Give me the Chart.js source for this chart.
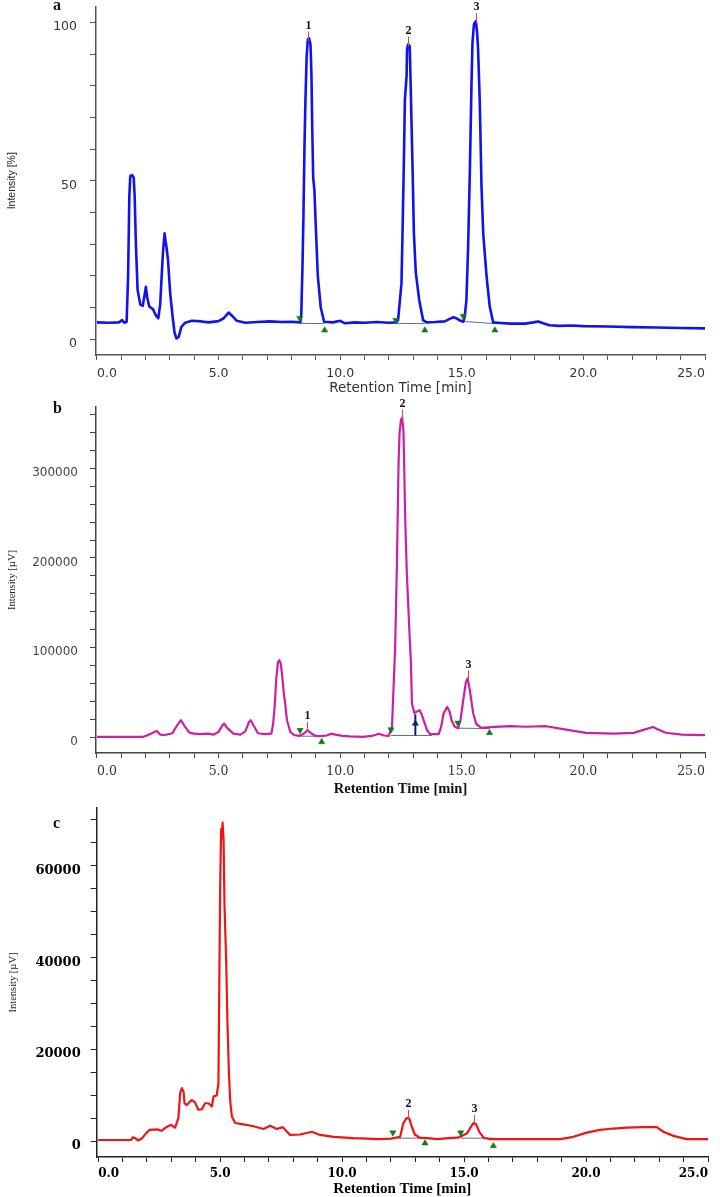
<!DOCTYPE html>
<html>
<head>
<meta charset="utf-8">
<script src="https://cdn.jsdelivr.net/npm/chart.js@4.4.0/dist/chart.umd.min.js"></script>
<style>
  html, body { margin: 0; padding: 0; background: #fff; }
  #wrap { position: relative; width: 720px; height: 1197px; overflow: hidden; }
  .pane { position: absolute; left: 0; width: 720px; }
  .pane canvas { display: block; }
  .tag { position: absolute; left: 53px; font: bold 16px "Liberation Serif", serif; line-height: 16px; color: #111; }
</style>
</head>
<body>
<div id="wrap">
  <div class="pane" style="top:0;height:400px"><canvas id="chart-a" width="720" height="400"></canvas></div>
  <div class="pane" style="top:396px;height:404px"><canvas id="chart-b" width="720" height="404"></canvas></div>
  <div class="pane" style="top:797px;height:400px"><canvas id="chart-c" width="720" height="400"></canvas></div>
  <div class="tag" style="top:-3px">a</div>
  <div class="tag" style="top:400px">b</div>
  <div class="tag" style="top:815px">c</div>
</div>
<script>
// ─────────────────────────────────────────────────────────────
// Cromatogramas a / b / c
// ─────────────────────────────────────────────────────────────

// eixo x comum (min)
const xTicks = [0, 1, 2, 3, 4, 5, 6, 7, 8, 9, 10, 11, 12, 13, 14, 15, 16, 17, 18, 19, 20, 21, 22, 23, 24, 25];
const xLabeled = [0, 5, 10, 15, 20, 25];

// ── a : intensidade [%] ──
const aTime = [0.00, 0.50, 0.90, 1.03, 1.12, 1.22, 1.28, 1.33, 1.37, 1.45, 1.51, 1.55, 1.60, 1.67, 1.78, 1.88,
  1.96, 2.01, 2.07, 2.15, 2.30, 2.42, 2.52, 2.60, 2.66, 2.71, 2.78, 2.82, 2.86, 2.92, 3.01, 3.11, 3.19, 3.27,
  3.36, 3.47, 3.63, 3.90, 4.30, 4.59, 5.00, 5.21, 5.41, 5.55, 5.75, 6.10, 6.60, 7.10, 7.60, 8.00, 8.36, 8.40,
  8.45, 8.49, 8.53, 8.57, 8.62, 8.67, 8.72, 8.78, 8.82, 8.85, 8.89, 8.94, 9.00, 9.08, 9.20, 9.34, 9.70, 10.0,
  10.2, 10.6, 11.0, 11.5, 12.0, 12.30, 12.38, 12.52, 12.56, 12.62, 12.66, 12.73, 12.75, 12.79, 12.86, 12.89,
  12.93, 12.98, 13.03, 13.11, 13.25, 13.41, 13.55, 13.90, 14.30, 14.50, 14.65, 14.80, 14.95, 15.06, 15.12,
  15.19, 15.26, 15.33, 15.40, 15.44, 15.50, 15.58, 15.63, 15.67, 15.74, 15.81, 15.88, 16.02, 16.15, 16.29,
  16.60, 17.00, 17.60, 17.95, 18.14, 18.35, 18.60, 19.00, 19.50, 20.00, 21.00, 22.00, 23.00, 24.00, 25.00];
const aInt = [5.3, 5.2, 5.3, 6.0, 5.2, 5.5, 20, 45, 51.5, 51.8, 51, 45, 30, 15.5, 11.0, 10.5,
  14, 16.5, 13, 10.3, 9.5, 7.5, 6.6, 11, 20, 27, 33.4, 31, 29, 25, 14.5, 7.1, 2.0, 0.2,
  0.7, 3.9, 5.2, 5.8, 5.6, 5.3, 5.7, 6.6, 8.4, 7.4, 5.8, 5.2, 5.4, 5.6, 5.4, 5.5, 5.3, 8,
  23, 39, 60, 75, 89, 94.6, 95, 93, 83, 67, 51, 47, 35, 20, 10, 5.5, 5.3, 5.8,
  5.0, 5.3, 5.2, 5.4, 5.2, 5.3, 6, 17.6, 32.4, 56.6, 75.6, 83, 91.5, 93, 92.5, 83,
  69.3, 52.5, 33.5, 20.9, 12.3, 6, 5.3, 5.4, 5.6, 6.4, 6.9, 6.5, 5.8, 5.5, 7,
  12.3, 29.2, 52.5, 81, 93.7, 99.4, 100.4, 96.8, 91.5, 74.7, 48.2, 33.5, 19.7, 10.2, 5.3,
  5.1, 4.9, 4.9, 5.3, 5.6, 5.0, 4.4, 4.2, 4.3, 4.1, 4.0, 3.8, 3.7, 3.5, 3.4];
const aStartT = [8.34, 12.29, 15.06];
const aStartV = [6.6, 6.0, 7.3];
const aEndT = [9.36, 13.48, 16.36];
const aEndV = [2.8, 2.8, 2.8];
const aBaseT = [8.34, 9.36, null, 12.29, 13.48, null, 15.06, 16.36];
const aBaseV = [5.0, 4.9, null, 5.0, 4.9, null, 5.6, 4.9];
const aPeakT = [8.69, 12.79, 15.58];
const aPeakV = [94.6, 93, 100.4];
const aPeakLabels = ['1', '2', '3'];
const aYTicks = [0, 10, 20, 30, 40, 50, 60, 70, 80, 90, 100];
const aYLabeled = [0, 50, 100];

// ── b : intensidade [µV] ──
const bTime = [0.00, 1.00, 1.90, 2.05, 2.30, 2.45, 2.60, 2.80, 3.10, 3.30, 3.45, 3.60, 3.81, 4.00, 4.22, 4.55,
  4.80, 5.00, 5.15, 5.23, 5.35, 5.61, 5.90, 6.10, 6.25, 6.32, 6.45, 6.62, 6.90, 7.17, 7.24, 7.30, 7.37, 7.44,
  7.50, 7.56, 7.62, 7.68, 7.74, 7.81, 7.95, 8.10, 8.30, 8.50, 8.65, 8.80, 9.00, 9.20, 9.45, 9.62, 9.80, 10.10,
  10.40, 10.93, 11.30, 11.59, 11.80, 12.00, 12.13, 12.26, 12.33, 12.40, 12.44, 12.50, 12.55, 12.60, 12.63,
  12.67, 12.74, 12.85, 12.91, 12.95, 13.05, 13.15, 13.26, 13.35, 13.43, 13.57, 13.70, 14.05, 14.15, 14.25,
  14.40, 14.50, 14.58, 14.70, 14.85, 14.95, 15.06, 15.17, 15.24, 15.33, 15.47, 15.60, 15.81, 16.34, 17.00,
  17.60, 18.47, 19.29, 20.10, 21.25, 22.07, 22.50, 22.86, 23.10, 23.38, 24.04, 25.00];
const bInt = [1000, 1000, 1000, 2500, 5500, 7600, 3500, 3000, 5000, 14000, 19500, 13000, 5400, 4500, 4000, 4500,
  3500, 6500, 13500, 15800, 11000, 4500, 3500, 7000, 17500, 19500, 13000, 5000, 4000, 4500, 15000, 32000, 65000, 84000,
  86400, 82000, 68000, 50000, 38000, 19500, 6500, 3000, 2000, 4500, 8400, 5000, 2000, 1800, 2500, 4500, 3500, 2000,
  1500, 1000, 2000, 4500, 2500, 2000, 12000, 101000, 190000, 305000, 339000, 354000, 356000, 342000, 305000,
  246000, 183000, 116000, 82700, 38100, 27500, 29000, 30600, 26000, 19500, 8400, 3900, 3900, 12000, 27000,
  34300, 29000, 19500, 12500, 10500, 20000, 41800, 62200, 66000, 53000, 27000, 15000, 11000, 12000, 12800,
  12200, 12800, 9100, 5400, 4500, 5400, 9000, 12000, 9000, 5500, 3500, 2800];
const bStartT = [8.35, 12.09, 14.84];
const bStartV = [8400, 9100, 16500];
const bEndT = [9.24, 16.14];
const bEndV = [-4700, 5400];
const bSplitT = [13.09];
const bSplitV = [15800];
const bDropT = [13.09, 13.09];
const bDropV = [2500, 26000];
const bBaseT = [8.35, 9.24, null, 12.09, 13.77, null, 14.84, 16.14];
const bBaseV = [1700, 1700, null, 2500, 2500, null, 10600, 10200];
const bPeakT = [8.65, 12.55, 15.24];
const bPeakV = [8400, 356000, 66000];
const bPeakLabels = ['1', '2', '3'];
const bYTicks = [0, 20000, 40000, 60000, 80000, 100000, 120000, 140000, 160000, 180000, 200000, 220000,
  240000, 260000, 280000, 300000, 320000, 340000, 360000];
const bYLabeled = [0, 100000, 200000, 300000];

// ── c : intensidade [µV] ──
const cTime = [0.00, 1.35, 1.42, 1.55, 1.63, 1.80, 1.97, 2.10, 2.44, 2.60, 2.79, 2.99, 3.15, 3.22, 3.29, 3.36,
  3.43, 3.50, 3.54, 3.63, 3.75, 3.84, 3.97, 4.11, 4.25, 4.38, 4.52, 4.66, 4.73, 4.86, 4.93, 4.97, 5.00, 5.04,
  5.07, 5.10, 5.14, 5.18, 5.25, 5.30, 5.36, 5.41, 5.48, 5.62, 5.96, 6.37, 6.78, 7.05, 7.32, 7.57, 7.87, 8.28,
  8.76, 9.10, 9.65, 10.46, 11.00, 11.50, 12.00, 12.38, 12.51, 12.65, 12.75, 12.85, 12.98, 13.18, 13.50, 13.92,
  14.34, 14.75, 15.11, 15.25, 15.38, 15.49, 15.63, 15.80, 16.07, 17.00, 18.00, 18.93, 19.48, 20.03, 20.57,
  21.12, 21.67, 22.35, 22.90, 23.17, 23.58, 24.13, 25.00];
const cInt = [300, 300, 900, 600, 200, 700, 1800, 2500, 2600, 2300, 3100, 3600, 3000, 4000, 5100, 10500,
  11600, 10800, 8300, 7900, 8600, 9000, 8500, 6900, 7000, 8300, 8300, 7600, 9800, 10000, 12700, 36700, 54900, 68000,
  66000, 69400, 65800, 51200, 38900, 25800, 14900, 9000, 5400, 4000, 3700, 3300, 2700, 3400, 2700, 3100, 1400, 1500,
  2100, 1400, 1000, 700, 600, 500, 600, 1000, 4000, 5100, 5000, 3300, 1500, 800, 700, 500,
  700, 800, 1700, 2900, 4000, 3800, 2000, 800, 500, 500, 500, 500, 1000, 1900, 2500,
  2800, 3000, 3100, 3100, 2100, 1200, 500, 500];
const cStartT = [12.08, 14.86];
const cStartV = [1900, 1900];
const cEndT = [13.40, 16.20];
const cEndV = [-400, -1000];
const cBaseT = [12.08, 13.40, null, 14.86, 16.20];
const cBaseV = [700, 700, null, 700, 700];
const cPeakT = [12.70, 15.40];
const cPeakV = [5100, 4000];
const cPeakLabels = ['2', '3'];
const cYTicks = [0, 5000, 10000, 15000, 20000, 25000, 30000, 35000, 40000, 45000, 50000, 55000, 60000,
  65000, 70000];
const cYLabeled = [0, 20000, 40000, 60000];

const GREEN = '#0c7c12';
const NAVY = '#10206a';
const BASE_LINE = '#4a74a0';

function pts(ts, vs) { return ts.map((t, i) => ({ x: t, y: vs[i] })); }

// número do pico + risquinho vermelho no ápice
const peakMarks = {
  id: 'peakMarks',
  afterDatasetsDraw(chart, args, opts) {
    const { ctx, scales: { x, y } } = chart;
    ctx.save();
    ctx.font = 'bold 12px "Liberation Serif", serif';
    ctx.textAlign = 'center';
    ctx.textBaseline = 'middle';
    opts.times.forEach((t, i) => {
      const px = Math.round(x.getPixelForValue(t)) + 0.5;
      const py = y.getPixelForValue(opts.values[i]);
      ctx.strokeStyle = '#e0404a';
      ctx.lineWidth = 1;
      ctx.beginPath();
      ctx.moveTo(px, py + 2);
      ctx.lineTo(px, py - 8);
      ctx.stroke();
      ctx.fillStyle = '#111';
      ctx.fillText(opts.labels[i], px, py - 14);
    });
    ctx.restore();
  }
};

function triangles(data, color, down) {
  return { data, showLine: false, pointStyle: 'triangle', rotation: down ? 180 : 0, pointRadius: 3.6,
    pointBackgroundColor: color, pointBorderColor: color, pointBorderWidth: 0.5 };
}

function chromatogram(id, p) {
  const datasets = [
    triangles(pts(p.startT, p.startV), GREEN, true),
    triangles(pts(p.endT, p.endV), GREEN, false),
    ...(p.extra || []),
    { data: pts(p.time, p.vals), borderColor: p.color, borderWidth: p.lw, pointRadius: 0, tension: 0,
      borderJoinStyle: 'round', fill: false },
    { data: pts(p.baseT, p.baseV), borderColor: BASE_LINE, borderWidth: 1, pointRadius: 0, spanGaps: false }
  ];
  return new Chart(document.getElementById(id), {
    type: 'line',
    data: { datasets },
    plugins: [peakMarks],
    options: {
      responsive: false, animation: false, events: [],
      layout: { padding: { left: 0, top: p.padTop, right: p.padRight, bottom: 0 } },
      plugins: {
        legend: { display: false }, tooltip: { enabled: false },
        peakMarks: { times: p.peakT, values: p.peakV, labels: p.peakLabels }
      },
      scales: {
        x: {
          type: 'linear', min: p.xMin, max: 25,
          afterBuildTicks: ax => { ax.ticks = xTicks.map(v => ({ value: v })); },
          afterFit: ax => { ax.height = p.xHeight; ax.paddingLeft = 0; ax.paddingRight = 0; },
          border: { color: p.axisColor, width: 1.5 },
          grid: { drawOnChartArea: false, tickLength: 5, tickColor: p.axisColor, tickWidth: 1 },
          ticks: { autoSkip: false, maxRotation: 0, minRotation: 0, align: 'inner', padding: p.xTickPad,
            color: p.xTickColor, font: p.xTickFont,
            callback: v => xLabeled.includes(v) ? v.toFixed(1) : '' },
          title: { display: true, text: 'Retention Time [min]', color: p.xTitleColor, font: p.xTitleFont,
            padding: { top: 0, bottom: p.xTitlePad } }
        },
        y: {
          type: 'linear', min: p.yMin, max: p.yMax,
          afterBuildTicks: ax => { ax.ticks = p.yTicks.map(v => ({ value: v })); },
          afterFit: ax => { ax.width = p.yWidth; ax.paddingTop = 0; ax.paddingBottom = 0; },
          border: { color: p.axisColor, width: 1.5 },
          grid: { drawOnChartArea: false, tickLength: 6, tickColor: p.axisColor, tickWidth: 1 },
          ticks: { autoSkip: false, padding: p.yTickPad, labelOffset: 4.5, color: p.yTickColor, font: p.yTickFont,
            callback: v => p.yLabeled.includes(v) ? String(v) : '' },
          title: { display: true, text: p.yTitle, color: '#222', font: p.yTitleFont,
            padding: { top: p.yTitlePad, bottom: 0 } }
        }
      }
    }
  });
}

chromatogram('chart-a', {
  time: aTime, vals: aInt, color: '#1212ee', lw: 2.6,
  startT: aStartT, startV: aStartV, endT: aEndT, endV: aEndV, baseT: aBaseT, baseV: aBaseV,
  peakT: aPeakT, peakV: aPeakV, peakLabels: aPeakLabels,
  yMin: -5, yMax: 105, yTicks: aYTicks, yLabeled: aYLabeled, xMin: -0.04,
  padTop: 6.5, padRight: 15, xHeight: 45, yWidth: 96, axisColor: '#555',
  xTickPad: 6, xTickColor: '#333', xTickFont: { family: 'DejaVu Sans', size: 12.5 },
  xTitleColor: '#333', xTitleFont: { family: 'DejaVu Sans', size: 13.5, lineHeight: 1 }, xTitlePad: 5.2,
  yTickPad: 13, yTickColor: '#333', yTickFont: { family: 'DejaVu Sans', size: 12.5 },
  yTitle: 'Intensity [%]', yTitleFont: { family: 'Liberation Sans', size: 10.5, lineHeight: 1 }, yTitlePad: 6.5
});

chromatogram('chart-b', {
  time: bTime, vals: bInt, color: '#cc1fa2', lw: 2.2,
  startT: bStartT, startV: bStartV, endT: bEndT, endV: bEndV, baseT: bBaseT, baseV: bBaseV,
  extra: [
    triangles(pts(bSplitT, bSplitV), NAVY, false),
    { data: pts(bDropT, bDropV), borderColor: NAVY, borderWidth: 2, pointRadius: 0 }
  ],
  peakT: bPeakT, peakV: bPeakV, peakLabels: bPeakLabels,
  yMin: -17000, yMax: 368000, yTicks: bYTicks, yLabeled: bYLabeled, xMin: -0.04,
  padTop: 11, padRight: 15, xHeight: 47, yWidth: 96, axisColor: '#444',
  xTickPad: 6, xTickColor: '#333', xTickFont: { family: 'DejaVu Serif', size: 12.5 },
  xTitleColor: '#111', xTitleFont: { family: 'Liberation Serif', size: 14.5, weight: 'bold', lineHeight: 1 }, xTitlePad: 3.8,
  yTickPad: 12, yTickColor: '#444', yTickFont: { family: 'DejaVu Sans', size: 12 },
  yTitle: 'Intensity [µV]', yTitleFont: { family: 'Liberation Serif', size: 10.5, lineHeight: 1 }, yTitlePad: 6.5
});

chromatogram('chart-c', {
  time: cTime, vals: cInt, color: '#f01414', lw: 2.2,
  startT: cStartT, startV: cStartV, endT: cEndT, endV: cEndV, baseT: cBaseT, baseV: cBaseV,
  peakT: cPeakT, peakV: cPeakV, peakLabels: cPeakLabels,
  yMin: -3400, yMax: 72600, yTicks: cYTicks, yLabeled: cYLabeled, xMin: -0.06,
  padTop: 11, padRight: 12, xHeight: 40, yWidth: 96.7, axisColor: '#222',
  xTickPad: 5, xTickColor: '#000', xTickFont: { family: 'DejaVu Serif', size: 12, weight: 'bold' },
  xTitleColor: '#000', xTitleFont: { family: 'Liberation Serif', size: 15, weight: 'bold', lineHeight: 1 }, xTitlePad: 0,
  yTickPad: 10, yTickColor: '#000', yTickFont: { family: 'DejaVu Serif', size: 13, weight: 'bold' },
  yTitle: 'Intensity [µV]', yTitleFont: { family: 'Liberation Serif', size: 10.5, lineHeight: 1 }, yTitlePad: 8
});
</script>
</body>
</html>
